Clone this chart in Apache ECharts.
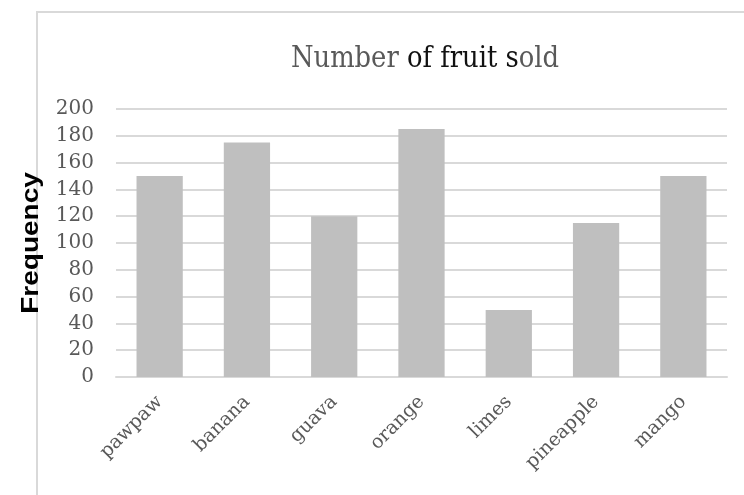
<!DOCTYPE html>
<html>
<head>
<meta charset="utf-8">
<script src="https://cdn.jsdelivr.net/npm/echarts@6/dist/echarts.min.js"></script>
<style>
  html, body { margin: 0; padding: 0; background: #fff; }
  #chart { width: 744px; height: 495px; }
</style>
</head>
<body>
<div id="chart"></div>
<script>
// Fruit sales counts
const fruits = ['pawpaw', 'banana', 'guava', 'orange', 'limes', 'pineapple', 'mango'];
const sold = [150, 175, 120, 185, 50, 115, 150];
const yTicks = { min: 0, max: 200, step: 20 };
const titleParts = ['Number ', 'of fruit s', 'old'];
const yName = 'Frequency';

const serif = '"DejaVu Serif", "Liberation Serif", serif';
const chart = echarts.init(document.getElementById('chart'));

chart.setOption({
  backgroundColor: '#ffffff',
  animation: false,
  graphic: [
    {
      // outer chart frame
      type: 'rect',
      shape: { x: 37, y: 12, width: 760, height: 520 },
      style: { fill: 'none', stroke: '#d9d9d9', lineWidth: 2 },
      silent: true
    },
    {
      // chart title, slightly condensed
      type: 'text',
      x: 425,
      y: 59,
      scaleX: 0.86,
      silent: true,
      style: {
        text: '{g|' + titleParts[0] + '}{d|' + titleParts[1] + '}{g|' + titleParts[2] + '}',
        textAlign: 'center',
        textVerticalAlign: 'middle',
        rich: {
          g: { fontFamily: serif, fontSize: 30, fill: '#595959' },
          d: { fontFamily: serif, fontSize: 30, fill: '#111111' }
        }
      }
    },
    {
      // vertical axis title
      type: 'text',
      x: 31,
      y: 243,
      rotation: Math.PI / 2,
      scaleY: 0.87,
      silent: true,
      style: {
        text: yName,
        textAlign: 'center',
        textVerticalAlign: 'middle',
        fontFamily: '"Liberation Sans", Arial, sans-serif',
        fontWeight: 'bold',
        fontSize: 28,
        fill: '#000000'
      }
    }
  ],
  grid: { left: 116, right: 17, top: 109, bottom: 118, containLabel: false },
  xAxis: {
    type: 'category',
    data: fruits,
    axisLine: { lineStyle: { color: '#d9d9d9', width: 2 } },
    axisTick: { show: false },
    axisLabel: {
      rotate: 45,
      margin: 22,
      fontFamily: serif,
      fontSize: 19,
      color: '#595959'
    }
  },
  yAxis: {
    type: 'value',
    min: yTicks.min,
    max: yTicks.max,
    interval: yTicks.step,
    axisLine: { show: false },
    axisTick: { show: false },
    splitLine: { lineStyle: { color: '#d9d9d9', width: 2 } },
    axisLabel: {
      margin: 22,
      fontFamily: serif,
      fontSize: 20,
      color: '#595959'
    }
  },
  series: [{
    type: 'bar',
    data: sold,
    barCategoryGap: '47%',
    itemStyle: { color: '#bfbfbf' }
  }]
});
</script>
</body>
</html>
